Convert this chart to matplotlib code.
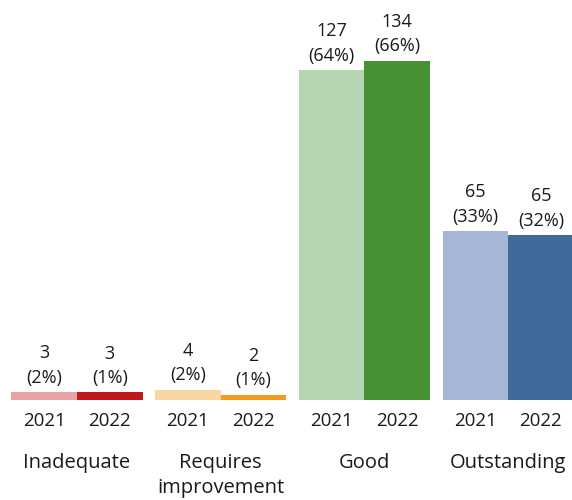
import matplotlib.pyplot as plt
import numpy as np

plt.rcParams['font.family'] = ['Open Sans', 'DejaVu Sans']

categories = ['Inadequate', 'Requires\nimprovement', 'Good', 'Outstanding']
years = ['2021', '2022']
counts_2021 = [3, 4, 127, 65]
counts_2022 = [3, 2, 134, 65]
colors_2021 = ['#e8a3a4', '#f9d6a1', '#b5d4b0', '#a7b5d6']
colors_2022 = ['#c0191c', '#f39a1e', '#469135', '#3f6a9c']

# bar heights are each count as a share of that year's total
pct_2021 = [c / sum(counts_2021) * 100 for c in counts_2021]
pct_2022 = [c / sum(counts_2022) * 100 for c in counts_2022]

fig = plt.figure(figsize = (5.72, 5.0), dpi = 100)
ax = fig.add_axes([0, 0.2, 1, 0.8])

x = np.arange(len(categories))
width = 0.456

for year_idx, (counts, pcts, colors) in enumerate([(counts_2021, pct_2021, colors_2021), (counts_2022, pct_2022, colors_2022)]):
    xs = x - width / 2 + year_idx * width
    ax.bar(xs, pcts, width = width, color = colors, linewidth = 0)
    for xi, c, p in zip(xs, counts, pcts):
        ax.annotate(f'{c}\n({p:.0f}%)', (xi, p), xytext = (0, 4), textcoords = 'offset points',
                    ha = 'center', va = 'bottom', fontsize = 13, color = '#1a1a1a', linespacing = 1.45)
        ax.annotate(years[year_idx], (xi, 0), xytext = (0, -15), textcoords = 'offset points',
                    ha = 'center', va = 'center', fontsize = 13.5, color = '#1a1a1a', annotation_clip = False)

for xi, cat in zip(x, categories):
    ax.annotate(cat, (xi, 0), xytext = (0, -38), textcoords = 'offset points',
                ha = 'center', va = 'top', fontsize = 14.5, color = '#1a1a1a', linespacing = 1.38,
                annotation_clip = False)

ax.set_xlim(-0.536, 3.445)
ax.set_ylim(0, 77.4)
ax.axis('off')

plt.savefig('out.png', dpi = 100)
